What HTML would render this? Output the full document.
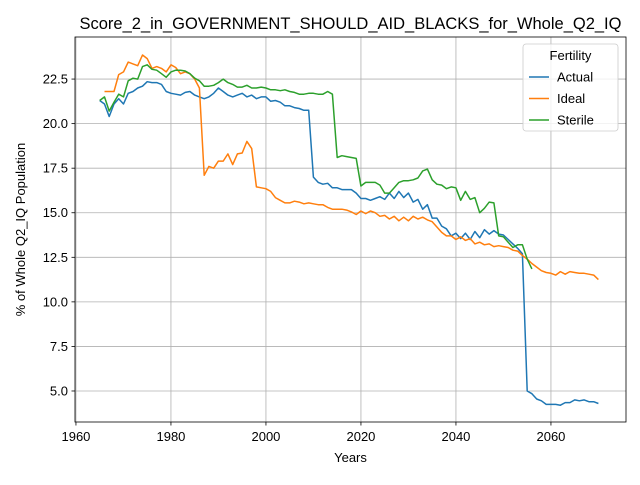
<!DOCTYPE html>
<html><head><meta charset="utf-8"><style>
body{margin:0;background:#fff;}
svg{font-family:"Liberation Sans","DejaVu Sans",sans-serif;}
</style></head><body>
<svg id="chart" width="640" height="480" xmlns="http://www.w3.org/2000/svg"></svg>
<script>
const actualStart = 1965;
const idealStart = 1966;
const sterileStart = 1965;
const actual = [21.3,21.1,20.4,21.1,21.4,21.1,21.7,21.8,22.0,22.1,22.35,22.3,22.3,22.2,21.8,21.7,21.65,21.6,21.75,21.8,21.6,21.5,21.4,21.5,21.7,22.0,21.8,21.6,21.5,21.6,21.7,21.5,21.6,21.4,21.5,21.5,21.25,21.3,21.2,21.0,21.0,20.9,20.85,20.75,20.75,17.0,16.7,16.6,16.65,16.4,16.4,16.3,16.3,16.3,16.1,15.8,15.8,15.7,15.8,15.9,15.75,16.1,15.8,16.2,15.85,16.1,15.6,15.75,15.2,15.45,14.7,14.7,14.25,14.1,13.7,13.85,13.55,13.85,13.5,13.95,13.6,14.05,13.8,14.0,13.8,13.75,13.5,13.25,13.0,12.7,5.0,4.85,4.55,4.45,4.25,4.25,4.25,4.2,4.35,4.35,4.5,4.45,4.5,4.4,4.4,4.3];
const ideal = [21.8,21.8,21.8,22.75,22.9,23.45,23.35,23.25,23.85,23.65,23.1,23.2,23.1,22.9,23.3,23.15,22.8,22.9,22.8,22.5,22.0,17.1,17.6,17.5,17.9,17.9,18.3,17.7,18.3,18.35,19.0,18.6,16.45,16.4,16.35,16.2,15.85,15.7,15.55,15.55,15.65,15.6,15.5,15.55,15.5,15.45,15.45,15.3,15.2,15.2,15.2,15.15,15.05,14.9,15.1,14.95,15.1,15.0,14.8,14.85,14.65,14.8,14.55,14.75,14.55,14.8,14.65,14.75,14.6,14.5,14.2,13.9,13.7,13.7,13.5,13.65,13.45,13.55,13.25,13.35,13.2,13.25,13.1,13.15,13.1,13.05,12.9,12.85,12.6,12.4,12.15,11.95,11.75,11.65,11.6,11.5,11.7,11.55,11.7,11.65,11.6,11.6,11.55,11.5,11.25];
const sterile = [21.3,21.5,20.7,21.2,21.65,21.5,22.4,22.55,22.5,23.2,23.3,23.05,23.0,22.8,22.6,22.9,23.0,23.0,22.95,22.8,22.55,22.4,22.1,22.1,22.15,22.3,22.5,22.3,22.2,22.05,22.05,22.15,22.0,22.0,22.05,22.0,21.9,21.9,21.85,21.9,21.8,21.75,21.65,21.65,21.7,21.7,21.65,21.65,21.8,21.65,18.1,18.2,18.15,18.1,18.05,16.5,16.7,16.7,16.7,16.55,16.1,16.1,16.4,16.7,16.8,16.8,16.85,16.95,17.35,17.45,16.85,16.6,16.55,16.35,16.45,16.4,15.7,16.2,15.75,15.85,15.0,15.25,15.6,15.55,13.7,13.65,13.35,13.05,13.2,13.2,12.4,11.85];
const xTicks = [1960,1980,2000,2020,2040,2060];
const yTicks = [5.0,7.5,10.0,12.5,15.0,17.5,20.0,22.5];
const seriesNames = ["Actual","Ideal","Sterile"];
const colors = ["#1f77b4","#ff7f0e","#2ca02c"];

const L=75,R=626,T=37,B=422;
const xMin=1959.8,xMax=2075.8,yMin=3.26,yMax=24.86;
const xs=v=>L+(v-xMin)/(xMax-xMin)*(R-L);
const ys=v=>B-(v-yMin)/(yMax-yMin)*(B-T);
const svg=document.getElementById('chart');
const NS="http://www.w3.org/2000/svg";
function mk(tag,attrs,parent){const e=document.createElementNS(NS,tag);for(const k in attrs)e.setAttribute(k,attrs[k]);(parent||svg).appendChild(e);return e;}

const grid=mk('g',{});


xTicks.forEach(t=>{
  const x=xs(t);
  mk('line',{x1:x,x2:x,y1:T,y2:B,stroke:'#b0b0b0','stroke-width':0.8},grid);
  mk('line',{x1:x,x2:x,y1:B,y2:B+3.5,stroke:'#000','stroke-width':0.8});
  const tx=mk('text',{x:x,y:B+19,'font-size':13,'text-anchor':'middle'});
  tx.textContent=t;
  
  
});
yTicks.forEach(t=>{
  const y=ys(t);
  mk('line',{x1:L,x2:R,y1:y,y2:y,stroke:'#b0b0b0','stroke-width':0.8},grid);
  mk('line',{x1:L-3.5,x2:L,y1:y,y2:y,stroke:'#000','stroke-width':0.8});
  const tx=mk('text',{x:L-7,y:y+4.5,'font-size':13,'text-anchor':'end'});
  tx.textContent=t.toFixed(1);
  
  
});

[[actual,actualStart],[ideal,idealStart],[sterile,sterileStart]].forEach(([s,st],i)=>{
  const pts=s.map((v,j)=>xs(st+j).toFixed(1)+','+ys(v).toFixed(1)).join(' ');
  const p=mk('polyline',{points:pts,fill:'none',stroke:colors[i],'stroke-width':1.5,'stroke-linejoin':'round'});
  
  
});

const frame=mk('rect',{x:L,y:T,width:R-L,height:B-T,fill:'none',stroke:'#000','stroke-width':0.8});



const title=mk('text',{x:(L+R)/2,y:29,'font-size':16.5,'text-anchor':'middle'});
title.textContent='Score_2_in_GOVERNMENT_SHOULD_AID_BLACKS_for_Whole_Q2_IQ';


const xl=mk('text',{x:(L+R)/2,y:462,'font-size':13,'text-anchor':'middle'});
xl.textContent='Years';


const yl=mk('text',{x:25,y:(T+B)/2,'font-size':13,'text-anchor':'middle',transform:'rotate(-90 25 '+((T+B)/2)+')'});
yl.textContent='% of Whole Q2_IQ Population';



const lg=mk('g',{});


mk('rect',{x:523,y:44,width:95,height:87,rx:3,fill:'#fff','fill-opacity':0.8,stroke:'#ccc','stroke-width':0.8},lg);
const lt=mk('text',{x:570.5,y:60,'font-size':13,'text-anchor':'middle'},lg);
lt.textContent='Fertility';
seriesNames.forEach((n,i)=>{
  const y=77+i*21.5;
  const e=mk('g',{},lg);
  
  
  mk('line',{x1:529,x2:549,y1:y,y2:y,stroke:colors[i],'stroke-width':1.5},e);
  const t=mk('text',{x:557,y:y+4.5,'font-size':13},e);
  t.textContent=n;
});
</script>
</body></html>
